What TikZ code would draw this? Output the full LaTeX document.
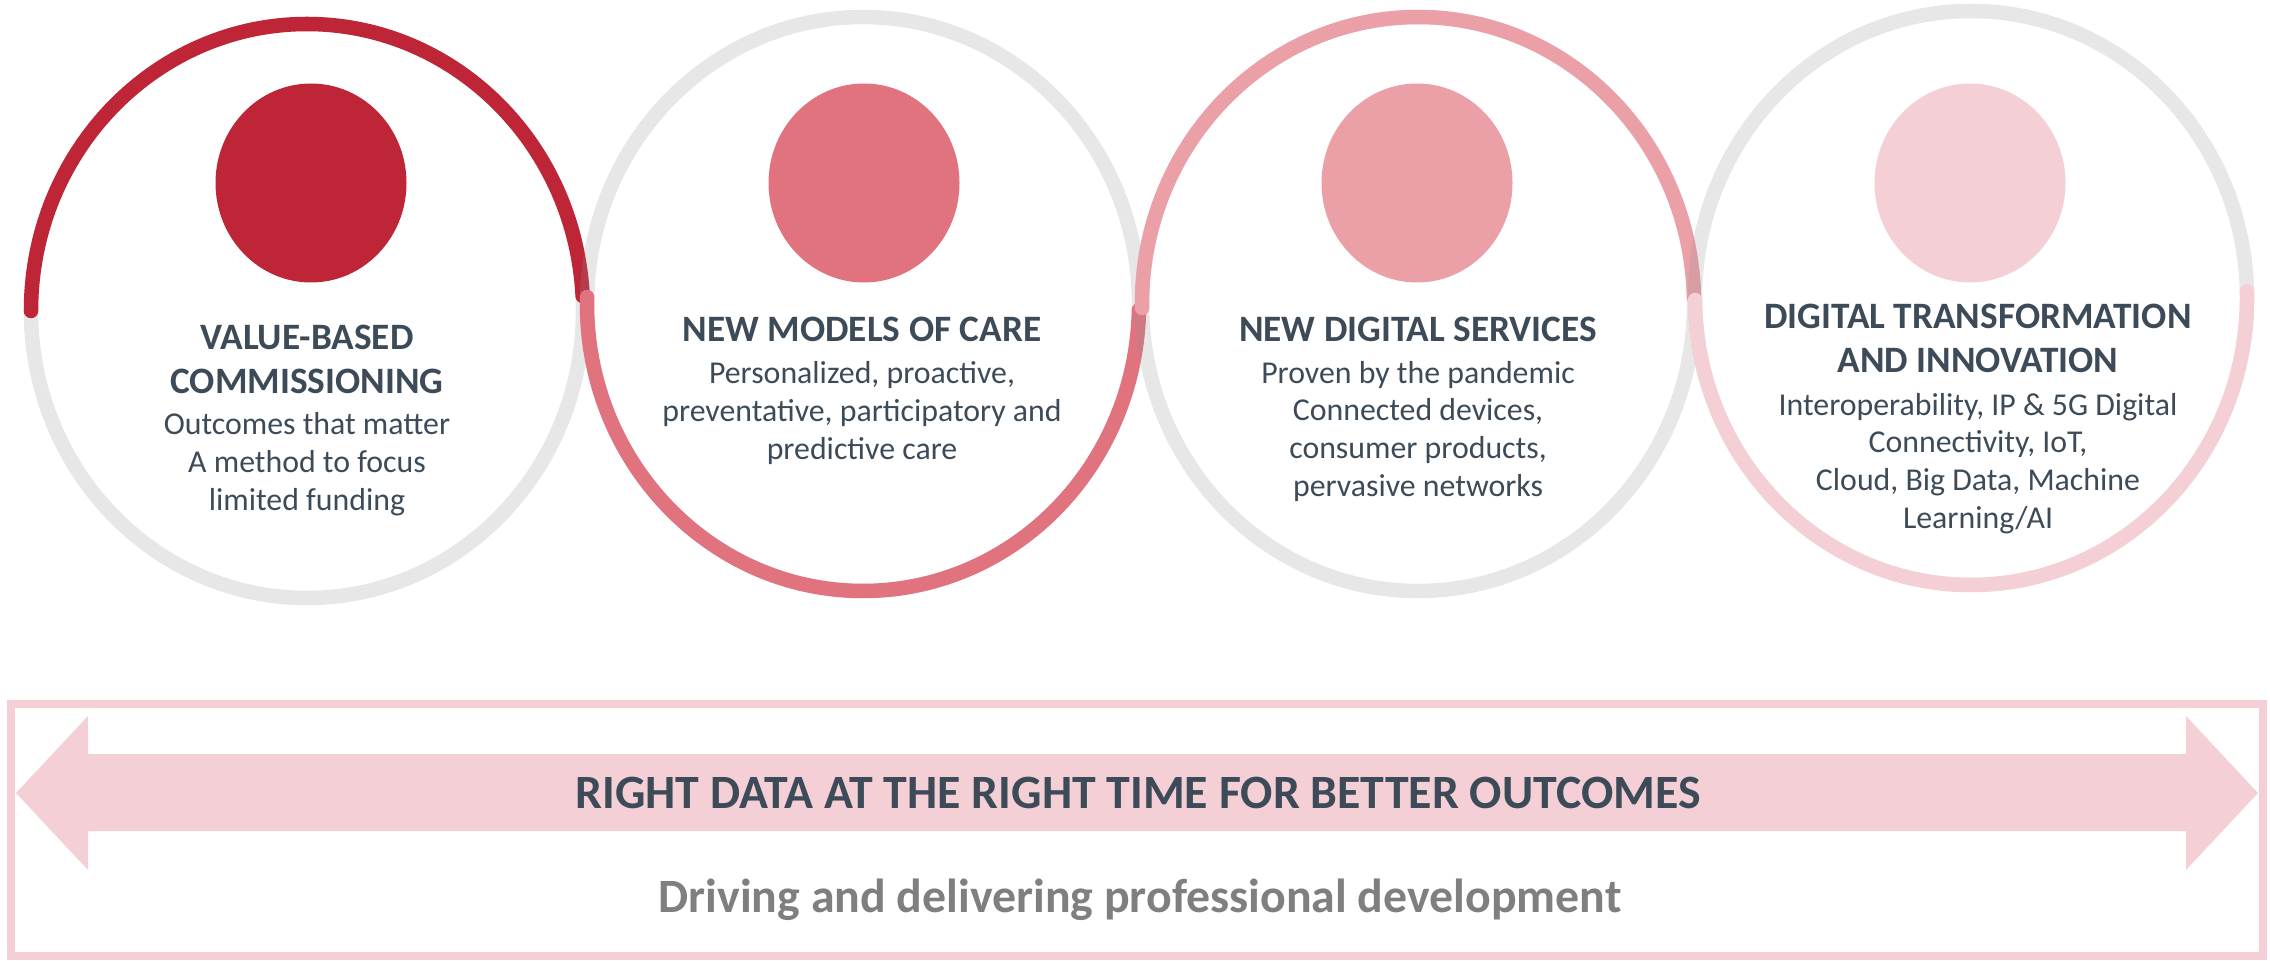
\documentclass[tikz,border=0pt]{standalone}
\usepackage{fontspec}
\setmainfont{Carlito}

\definecolor{redA}{HTML}{BE2536}
\definecolor{redB}{HTML}{E1737F}
\definecolor{redC}{HTML}{EBA0A8}
\definecolor{redD}{HTML}{F4D0D6}
\definecolor{slate}{HTML}{3D4B58}
\definecolor{dimgray}{HTML}{7F7F7F}

\tikzset{
  ring/.style={draw=black!42, draw opacity=0.224, line width=0.145cm},
  band/.style={line width=0.145cm, line cap=round},
  headtxt/.style={anchor=base, align=center, inner sep=0pt, text=slate,
    font=\bfseries\fontsize{10.6pt}{12.6pt}\selectfont},
  bodytxt/.style={anchor=base, align=center, inner sep=0pt, text=slate,
    font=\fontsize{9.05pt}{10.7pt}\selectfont}
}

\begin{document}
\begin{tikzpicture}[x=0.01cm, y=0.01cm]
  \useasboundingbox (0,0) rectangle (2270,960);
  % rings: centre, dot x, colour, arc from / to
  \foreach \cx/\cy/\dx/\col/\a/\b in {307/649/311/redA/180/3, 863/656/864/redB/178.6/358.8,
      1418/656/1417/redC/180.8/1.4, 1971/662/1970/redD/180.4/361.4}{
    \draw[ring] (\cx,\cy) ellipse [x radius=276, y radius=287];
    \draw[band, \col] ({\cx+276*cos(\a)},{\cy+287*sin(\a)})
      arc [start angle=\a, end angle=\b, x radius=276, y radius=287];
    \fill[\col] (\dx,777) ellipse [x radius=95.5, y radius=99.5];
  }

  % texts in the rings (base = last line)
  \node[headtxt] (h1) at (307,566) {VALUE-BASED\\COMMISSIONING};
  \node[bodytxt] (b1) at (307,450) {Outcomes that matter\\A method to focus\\limited funding};
  \node[headtxt] (h2) at (862,618) {NEW MODELS OF CARE};
  \node[bodytxt] (b2) at (862,501) {Personalized, proactive,\\preventative, participatory and\\predictive care};
  \node[headtxt] (h3) at (1418,618) {NEW DIGITAL SERVICES};
  \node[bodytxt] (b3) at (1418,464) {Proven by the pandemic\\Connected devices,\\consumer products,\\pervasive networks};
  \node[headtxt] (h4) at (1978,587.5) {DIGITAL TRANSFORMATION\\AND INNOVATION};
  \node[bodytxt] (b4) at (1978,432) {Interoperability, IP \& 5G Digital\\Connectivity, IoT,\\Cloud, Big Data, Machine\\Learning/AI};

  % frame and double arrow
  \draw[redD, line width=0.08cm] (11,4) rectangle (2263,256);
  \fill[redD] (16,167) -- (88,244) -- (88,206) -- (2186,206) -- (2186,244) -- (2258,167)
    -- (2186,90) -- (2186,129) -- (88,129) -- (88,90) -- cycle;
  \node[anchor=base, inner sep=0pt, text=slate, font=\bfseries\fontsize{13.6pt}{15pt}\selectfont]
    (rdata) at (1138,152) {RIGHT DATA AT THE RIGHT TIME FOR BETTER OUTCOMES};
  \node[anchor=base, inner sep=0pt, text=dimgray, font=\bfseries\fontsize{13.6pt}{15pt}\selectfont]
    (drive) at (1140,48) {Driving and delivering professional development};
\end{tikzpicture}
\end{document}
